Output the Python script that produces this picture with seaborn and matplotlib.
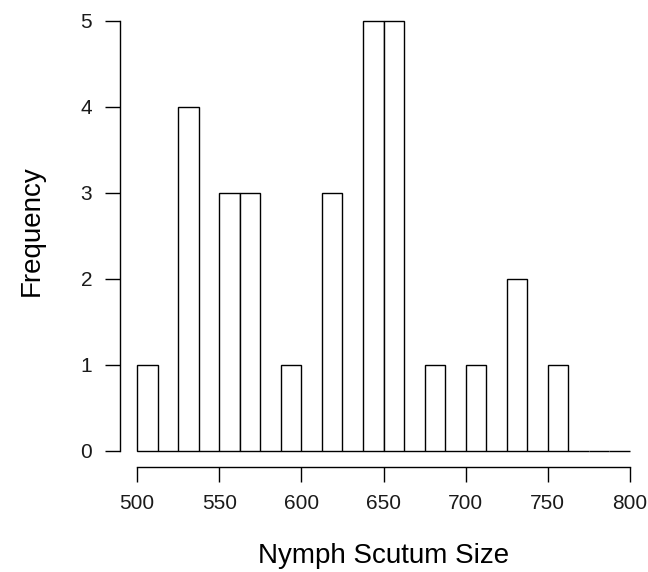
import numpy as np
import matplotlib
matplotlib.use("Agg")
import matplotlib.pyplot as plt
import seaborn as sns

# Histogram bins for nymph scutum size (left edges, width 12.5)
bin_starts = [500.0, 512.5, 525.0, 537.5, 550.0, 562.5, 575.0, 587.5,
              600.0, 612.5, 625.0, 637.5, 650.0, 662.5, 675.0, 687.5,
              700.0, 712.5, 725.0, 737.5, 750.0, 762.5, 775.0, 787.5]
bin_width = 12.5
frequency = [1, 0, 4, 0, 3, 3, 0, 1,
             0, 3, 0, 5, 5, 0, 1, 0,
             1, 0, 2, 0, 1, 0, 0, 0]
x_ticks = [500, 550, 600, 650, 700, 750, 800]
y_ticks = [0, 1, 2, 3, 4, 5]

sns.set_theme(style="ticks")
plt.rcParams["font.family"] = ["Liberation Sans", "DejaVu Sans"]

edges = bin_starts + [bin_starts[-1] + bin_width]
centers = [b + bin_width / 2 for b in bin_starts]

W, H = 648, 572
fig = plt.figure(figsize=(W / 100, H / 100), dpi=100)
fig.patch.set_facecolor("white")
ax = fig.add_axes([137 / W, (H - 450.5) / H, (630 - 137) / W, (450.5 - 21) / H])

sns.histplot(x=centers, weights=frequency, bins=edges, ax=ax,
             color="white", edgecolor="black", linewidth=1.0, alpha=1.0)

for p in ax.patches:
    p.set_clip_on(False)

ax.set_xlim(500, 800)
ax.set_ylim(0, 5)
ax.set_xticks(x_ticks)
ax.set_yticks(y_ticks)
ax.set_xticklabels([str(v) for v in x_ticks])
ax.set_yticklabels([str(v) for v in y_ticks])

for side in ("top", "right"):
    ax.spines[side].set_visible(False)
ax.spines["left"].set_position(("outward", 12.2))
ax.spines["bottom"].set_position(("outward", 11.9))
ax.spines["left"].set_bounds(0, 5)
ax.spines["bottom"].set_bounds(500, 800)
for side in ("left", "bottom"):
    ax.spines[side].set_color("black")
    ax.spines[side].set_linewidth(1.0)

ax.tick_params(axis="both", length=10.8, width=1.0, color="black",
               labelsize=15, labelcolor="#1a1a1a")
ax.tick_params(axis="x", pad=8.6)
ax.tick_params(axis="y", pad=9.2)

ax.set_xlabel("Nymph Scutum Size", fontsize=20, color="black")
ax.set_ylabel("Frequency", fontsize=20, color="black")
ax.xaxis.set_label_coords(0.5, -0.215)
ax.yaxis.set_label_coords(-0.188, 0.513)
ax.grid(False)
ax.set_facecolor("white")

fig.savefig("out.png", dpi=100, facecolor="white")
